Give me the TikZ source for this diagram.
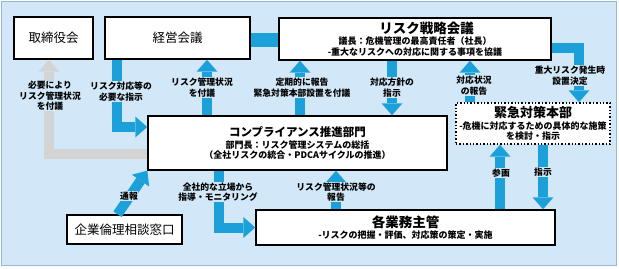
\documentclass[tikz,border=0pt]{standalone}
\usepackage{fontspec}
\newfontfamily\jp{Noto Sans CJK JP}
\usetikzlibrary{arrows.meta}
\definecolor{skyback}{RGB}{210,232,248}
\definecolor{frameblue}{RGB}{150,182,218}
\definecolor{flowblue}{RGB}{28,160,218}
\definecolor{softgrey}{RGB}{212,212,212}

\begin{document}
\begin{tikzpicture}[
  x=1pt, y=-1pt,
  box/.style={draw=black, fill=white, line width=1.4pt, align=center, inner sep=0pt},
  title/.style={font=\jp\fontsize{12.5}{14}\selectfont},
  multi/.style={font=\jp\bfseries\fontsize{9}{10.5}\selectfont},
  note/.style={fill=skyback, inner sep=0.6pt, align=center, font=\jp\bfseries\fontsize{8.8}{10.5}\selectfont},
  arr/.style={draw=flowblue, line width=10pt, -{Triangle[length=12pt, width=21pt, line width=0pt]}},
  greyarr/.style={arr, draw=softgrey}
]
  \useasboundingbox (0,0) rectangle (619,268);
  \fill[white] (0,0) rectangle (619,268);
  \draw[draw=frameblue, fill=skyback, line width=1.2pt] (1.5,1.5) rectangle (616.5,265.5);

  % boxes
  \node[box, title, minimum width=79pt, minimum height=42pt] (tori) at (53.5,38) {取締役会};
  \node[box, title, minimum width=145pt, minimum height=42pt] (keiei) at (177.5,38) {経営会議};
  \node[box, multi, minimum width=272pt, minimum height=42pt] (risk) at (415,39)
      {\hspace*{23pt}{\fontsize{13.5}{13.5}\selectfont リスク戦略会議}\\[1pt]
       議長：危機管理の最高責任者（社長）\\-重大なリスクへの対応に関する事項を協議};
  \node[box, multi, minimum width=299pt, minimum height=54pt] (comp) at (297.5,143)
      {{\fontsize{11.5}{11.5}\selectfont コンプライアンス推進部門}\\[1pt]
       部門長：リスク管理システムの総括\\（全社リスクの統合・PDCAサイクルの推進）};
  \node[box, multi, dotted, minimum width=154pt, minimum height=41pt] (kinkyu) at (533,123.5)
      {{\fontsize{13}{13}\selectfont 緊急対策本部}\\[1pt]
       -危機に対応するための具体的な施策\\を検討・指示};
  \node[box, multi, minimum width=299pt, minimum height=35pt] (gyomu) at (405.5,227.5)
      {{\fontsize{13.5}{13.5}\selectfont 各業務主管}\\[1pt]-リスクの把握・評価、対応策の策定・実施};
  \node[box, title, minimum width=115pt, minimum height=29pt] (rinri) at (124.5,229.5) {企業倫理相談窓口};

  % flows
  \draw[draw=flowblue, line width=14pt] ([yshift=-2pt]keiei.east) -- ([yshift=-2pt]keiei.east -| risk.west);
  \draw[greyarr] ([yshift=-11pt]comp.west) -| ([xshift=-4.5pt]tori.south);
  \draw[arr] ([xshift=-60.5pt]keiei.south) |- ([yshift=16pt]comp.west);
  \draw[arr] ([xshift=29.5pt]keiei.south |- comp.north) -- ([xshift=29.5pt]keiei.south);
  \draw[arr] ([xshift=-115pt]risk.south |- comp.north) -- ([xshift=-115pt]risk.south);
  \draw[arr] ([xshift=-23pt]risk.south) -- ([xshift=-23pt]risk.south |- comp.north);
  \draw[arr] ([xshift=-63pt]kinkyu.north) -- ([xshift=-63pt]kinkyu.north |- risk.south);
  \draw[arr] ([yshift=-9pt]risk.east) -| ([xshift=46pt]kinkyu.north);
  \draw[arr] ([xshift=-33pt]kinkyu.south |- gyomu.north) -- ([xshift=-33pt]kinkyu.south);
  \draw[arr] ([xshift=10pt]kinkyu.south) -- ([xshift=10pt]kinkyu.south |- gyomu.north);
  \draw[arr] ([xshift=38.5pt]comp.south |- gyomu.north) -- ([xshift=38.5pt]comp.south);
  \draw[arr] ([xshift=-78.5pt]comp.south) |- (gyomu.west);
  \draw[arr] ([xshift=-7pt]rinri.north) -- (comp.south west);

  % labels
  \node[note] (n1) at (50,96) {必要により\\リスク管理状況\\を付議};
  \node[note] (n2) at (121,91.5) {リスク対応等の\\必要な指示};
  \node[note] (n3) at (202,87.5) {リスク管理状況\\を付議};
  \node[note] (n4) at (302,87.5) {定期的に報告\\緊急対策本部設置を付議};
  \node[note] (n5) at (392,87.5) {対応方針の\\指示};
  \node[note] (n6) at (474,85.5) {対応状況\\の報告};
  \node[note] (n7) at (570,75.5) {重大リスク発生時\\設置決定};
  \node[note] (n8) at (501,173) {参画};
  \node[note] (n9) at (543,172) {指示};
  \node[note] (n10) at (336,192) {リスク管理状況等の\\報告};
  \node[note] (n11) at (218,192) {全社的な立場から\\指導・モニタリング};
  \node[note] (n12) at (129,196) {通報};
\end{tikzpicture}
\end{document}
